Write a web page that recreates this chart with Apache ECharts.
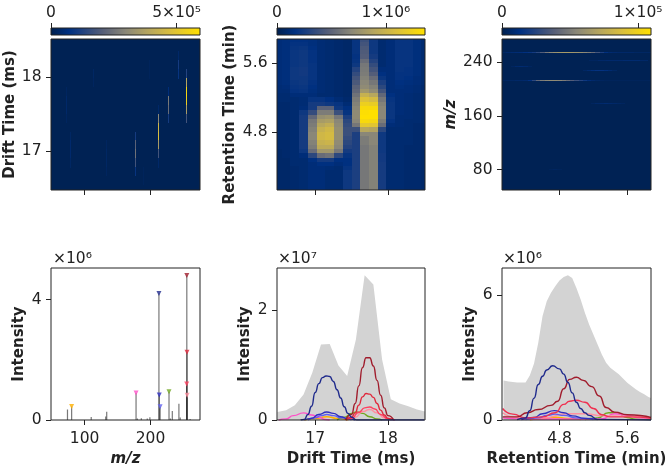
<!DOCTYPE html>
<html><head><meta charset="utf-8">
<style>html,body{margin:0;padding:0;background:#fff}#c{width:666px;height:466px;filter:blur(0.4px)}</style>
<script src="https://cdn.jsdelivr.net/npm/echarts@6/dist/echarts.min.js"></script>
</head><body><div id="c"></div>
<script>
// Colour map of the heat maps (fraction of scale -> colour)
const colorStops = [[0,'#00204f'],[0.12,'#003080'],[0.2,'#1c3f80'],[0.35,'#575f78'],[0.5,'#8a8778'],[0.65,'#b5a55f'],[0.8,'#d9be3e'],[1,'#ffe000']];

// Scale maxima of the three colour bars
const barMaxMz = 5.93e5, barMaxRt = 1.36e6, barMaxDrift = 1.095e5;

// Drift time bins (ms), retention time bins (min)
const driftBins = [16.48,16.6,16.72,16.84,16.96,17.08,17.2,17.32,17.44,17.56,17.68,17.8,17.92,18.04,18.16,18.28,18.4,18.52];
const rtBinsTopDown = [5.875,5.825,5.775,5.725,5.675,5.625,5.575,5.525,5.475,5.425,5.375,5.325,5.275,5.225,5.175,5.125,5.075,5.025,4.975,4.925,4.875,4.825,4.775,4.725,4.675,4.625,4.575,4.525,4.475,4.425,4.375,4.325,4.275,4.225,4.175,4.125];

// Drift vs retention heat map, percent of colour scale; one row per retention bin
const heatRtDrift = [
[10,11,12,12,11,9,8,7,6,14,28,16,8,10,14,14,11,8],
[10,11,13,13,11,9,8,7,6,14,30,16,8,10,14,14,11,8],
[10,11,14,15,12,9,8,7,6,14,32,16,8,10,14,14,11,8],
[10,11,15,16,13,9,8,7,6,14,33,16,8,10,14,14,11,8],
[10,11,15,16,13,9,8,7,6,13,34,18,8,10,14,14,11,8],
[10,11,15,16,13,9,8,7,6,14,40,22,8,10,14,14,11,8],
[10,11,15,16,14,9,8,7,6,16,44,26,8,10,14,14,11,8],
[10,11,16,17,14,9,8,7,6,22,45,30,10,10,14,13,11,8],
[10,11,16,17,14,9,8,7,6,26,46,34,12,10,13,13,11,8],
[10,11,16,16,14,9,8,7,6,30,48,40,15,10,13,12,10,8],
[10,11,15,16,13,9,8,7,6,32,50,44,20,10,12,11,10,8],
[9,10,14,15,12,9,8,7,6,36,52,48,24,10,11,10,9,7],
[9,9,13,14,11,9,8,7,6,38,58,52,30,10,10,10,9,7],
[8,8,10,10,10,8,8,7,6,42,72,66,38,12,10,9,8,7],
[8,8,8,9,14,14,12,9,7,46,82,78,44,14,10,9,8,7],
[7,7,8,9,18,18,16,14,9,48,90,88,48,15,10,9,8,7],
[7,7,8,10,18,36,36,16,12,50,96,96,50,15,10,9,8,7],
[7,7,8,16,26,46,46,28,14,52,99,100,50,15,10,9,8,7],
[7,7,8,18,38,54,56,44,20,52,100,100,50,15,9,9,8,7],
[7,7,8,18,44,60,62,50,24,50,96,94,46,13,9,8,8,7],
[7,7,8,18,46,66,70,52,26,44,86,84,40,10,9,8,7,6],
[7,7,8,18,48,72,76,54,28,28,66,64,24,8,8,8,7,6],
[7,7,8,18,50,76,78,54,28,20,50,50,16,8,8,8,7,6],
[7,7,8,18,50,76,78,54,26,20,46,50,16,8,8,8,7,6],
[7,7,8,18,48,72,74,52,24,20,46,50,16,8,8,8,7,6],
[7,7,8,18,46,68,68,50,22,20,44,48,16,8,8,7,7,6],
[6,7,8,16,40,58,58,44,18,20,44,48,16,8,8,7,7,6],
[6,7,8,10,24,40,42,24,14,20,44,48,17,8,8,7,7,6],
[6,6,8,8,12,18,18,12,12,20,44,48,17,8,8,7,7,6],
[6,6,8,8,10,12,12,10,12,20,44,48,18,8,8,7,7,6],
[6,6,7,8,10,10,9,8,14,20,44,48,18,8,8,7,7,6],
[6,6,7,8,10,10,8,8,16,20,44,48,18,8,8,7,7,6],
[6,6,7,8,10,10,8,8,16,20,44,48,18,8,8,7,7,6],
[6,6,7,8,10,10,8,8,16,20,44,48,18,8,8,7,7,6],
[6,6,7,8,10,10,8,8,16,20,44,48,18,8,8,7,7,6],
[6,6,7,8,10,10,8,8,16,20,44,48,18,8,8,7,7,6]
];

// m/z vs drift streaks: [m/z, drift, percent of colour scale]
const streaksMzDrift = [
[255,18.04,22],[255,17.92,65],[255,17.8,95],[255,17.68,90],[255,17.56,60],[255,17.44,30],
[211.6,17.56,6],[211.6,17.44,50],[211.6,17.32,75],[211.6,17.2,80],[211.6,17.08,60],[211.6,16.96,30],[211.6,16.84,6],
[227,17.8,10],[227,17.68,45],[227,17.56,40],[227,17.44,18],
[177,17.2,18],[177,17.08,36],[177,16.96,42],[177,16.84,30],[177,16.72,14],
[242,18.28,6],[242,18.16,18],[242,18.04,14],
[113,18.04,5],[113,17.92,4],
[73,17.8,4],[73,17.68,6],[73,17.56,6],[73,17.44,4],
[79,17.2,5],[79,17.08,7],[79,16.96,7],[79,16.84,5],
[133,17.08,4],[133,16.96,5],[133,16.84,5],[133,16.72,4],
[199,18.16,3],[199,18.04,3],
[190,16.72,3],[190,16.6,3]
];

// Retention bins of the m/z vs retention streaks (min)
const rtStreakBins = [4.15,4.2,4.25,4.3,4.35,4.4,4.45,4.5,4.55,4.6,4.65,4.7,4.75,4.8,4.85,4.9,4.95,5.0,5.05,5.1,5.15,5.2,5.25,5.3,5.35,5.4,5.45,5.5,5.55,5.6,5.65,5.7,5.75,5.8,5.85];
// Percent of colour scale at each retention bin
const streak255 = [5,7,8,9,10,12,14,18,24,34,44,50,55,58,60,60,58,56,54,50,46,40,30,20,12,8,7,6,6,6,6,5,5,5,5];
const streak213 = [4,5,5,6,6,7,12,24,38,46,50,52,52,50,46,40,34,28,22,16,10,7,5,4,3,3,3,3,3,3,3,3,3,3,3];
// Short streaks: [m/z, retention, percent]
const streaksMzRt = [
[228,5.1,5],[228,5.15,8],[228,5.2,11],[228,5.25,13],[228,5.3,13],[228,5.35,11],[228,5.4,8],[228,5.45,5],
[233.5,4.25,4],[233.5,4.3,7],[233.5,4.35,8],[233.5,4.4,7],[233.5,4.45,4],
[243.5,5.2,4],[243.5,5.3,6],[243.5,5.4,7],[243.5,5.5,7],[243.5,5.6,8],[243.5,5.7,8],[243.5,5.8,6],
[179,5.2,4],[179,5.25,6],[179,5.3,7],[179,5.35,8],[179,5.4,7],[179,5.45,6],[179,5.5,5],[179,5.55,4],
[80,4.7,3],[80,4.75,4],[80,4.8,3]
];

// Mass spectrum
const stemPeaks = [[74,0.35],[80.3,0.45],[110,0.1],[132,0.12],[133.5,0.27],[150,0.02],[155,0.02],[160,0.02],[166,0.02],[178,0.9],[180,0.05],[186,0.06],[195,0.05],[199,0.09],[205,0.02],[212.7,4.2],[213.2,0.83],[214.5,0.44],[222,0.02],[228,0.94],[230,0.05],[233,0.3],[243,0.54],[245,0.08],[255,4.8],[255.3,2.25],[254.8,1.2],[255.5,0.82],[260,0.03],[268,0.02]];
const spectrumMarkers = [
{c:'#ffb000',p:[80.3,0.45]},{c:'#ff50c8',p:[178,0.9]},{c:'#1f2a8c',p:[212.7,4.2]},{c:'#3030c0',p:[213.2,0.83]},{c:'#6060f0',p:[214.5,0.44]},
{c:'#70a820',p:[228,0.94]},{c:'#a01c2c',p:[255,4.8]},{c:'#e0283c',p:[255.3,2.25]},{c:'#ff4060',p:[254.8,1.2]},{c:'#ff90a0',p:[255.5,0.82]}];

// Drift profile (x 1e7)
const driftTotal = [.145,.175,.27,.465,.86,1.37,1.38,.99,.8,1.46,2.63,2.46,1.1,.375,.3,.25,.19,.15];
const dNavy = [[16.8,0],[16.85,.01],[16.9,.1],[16.95,.25],[17,.5],[17.05,.66],[17.1,.77],[17.15,.8],[17.2,.79],[17.25,.7],[17.3,.55],[17.35,.4],[17.4,.24],[17.45,.12],[17.5,.05],[17.57,0],[18.5,0]];
const dDarkRed = [[17.42,0],[17.5,.1],[17.55,.3],[17.6,.62],[17.65,.95],[17.7,1.13],[17.75,1.13],[17.8,.98],[17.85,.72],[17.9,.45],[17.95,.22],[18,.08],[18.08,0]];
const dRed = [[17.42,0],[17.5,.05],[17.55,.13],[17.6,.27],[17.65,.42],[17.7,.48],[17.75,.47],[17.8,.41],[17.85,.3],[17.9,.18],[17.95,.09],[18,.03],[18.08,0]];
const dPink = [[17.42,0],[17.5,.03],[17.6,.14],[17.68,.22],[17.75,.235],[17.82,.2],[17.9,.1],[18,.02],[18.1,0]];
const dLightPink = [[17.45,0],[17.55,.05],[17.65,.15],[17.75,.19],[17.85,.13],[17.95,.04],[18.05,0]];
const dGreen = [[17.3,0],[17.4,.05],[17.5,.12],[17.57,.145],[17.65,.12],[17.75,.06],[17.85,.02],[17.92,0]];
const dMagenta = [[16.5,.0],[16.6,.02],[16.7,.08],[16.84,.13],[16.95,.09],[17.05,.05],[17.14,.01],[17.2,0]];
const dBlue = [[16.85,0],[16.95,.03],[17.05,.1],[17.16,.145],[17.25,.12],[17.35,.06],[17.45,.02],[17.55,0]];
const dLightBlue = [[16.9,0],[17,.04],[17.08,.08],[17.16,.1],[17.25,.08],[17.35,.04],[17.5,0]];
const dOrange = [[16.85,0],[17,.03],[17.16,.06],[17.3,.03],[17.45,0]];

// Retention profile (x 1e6)
const rtTotalX = [4.14,4.15,4.2,4.25,4.3,4.35,4.4,4.45,4.5,4.55,4.6,4.65,4.7,4.75,4.8,4.85,4.9,4.95,5,5.05,5.1,5.15,5.2,5.25,5.3,5.35,5.4,5.45,5.5,5.55,5.6,5.65,5.7,5.75,5.8,5.85,5.88];
const rtTotal = [1.9,1.9,1.85,1.82,1.8,1.8,1.8,2.14,2.71,3.7,4.98,5.7,6.1,6.41,6.69,6.86,6.94,6.81,6.33,5.78,5.14,4.58,4.1,3.62,3.14,2.74,2.5,2.35,2.19,1.99,1.79,1.63,1.47,1.34,1.23,1.1,1.05];
const rNavy = [[4.3,.02],[4.4,.1],[4.45,.45],[4.5,1.05],[4.55,1.7],[4.6,2.1],[4.65,2.4],[4.72,2.6],[4.8,2.45],[4.85,2.2],[4.9,1.8],[4.95,1.3],[5,.85],[5.05,.55],[5.1,.35],[5.15,.22],[5.25,.03],[5.88,0]];
const rDarkRed = [[4.13,.15],[4.3,.15],[4.42,.35],[4.55,.5],[4.7,.7],[4.78,.9],[4.85,1.5],[4.92,1.95],[5,2.05],[5.08,1.9],[5.18,1.6],[5.27,1.15],[5.35,.6],[5.45,.38],[5.6,.25],[5.88,.12]];
const rRed = [[4.13,.55],[4.25,.28],[4.4,.1],[4.6,.15],[4.75,.35],[4.85,.75],[4.92,.9],[5,.95],[5.1,.85],[5.2,.55],[5.3,.25],[5.4,.15],[5.6,.15],[5.88,.08]];
const rLightPink = [[4.13,.35],[4.3,.12],[4.6,.1],[4.9,.3],[5.1,.3],[5.3,.2],[5.6,.18],[5.88,.08]];
const rGreen = [[5.1,.02],[5.25,.1],[5.38,.35],[5.47,.35],[5.6,.12],[5.7,.04],[5.88,.02]];
const rMagenta = [[4.13,.1],[4.4,.05],[5.3,.05],[5.45,.3],[5.6,.22],[5.75,.1],[5.88,.06]];
const rBlue = [[4.35,.02],[4.5,.12],[4.6,.3],[4.74,.45],[4.85,.35],[4.95,.2],[5.1,.08],[5.25,.02]];
const rLightBlue = [[4.4,.02],[4.55,.1],[4.65,.22],[4.75,.28],[4.85,.22],[5,.1],[5.2,.02]];
const rOrange = [[4.45,.01],[4.6,.06],[4.75,.13],[4.9,.08],[5.05,.02]];

// Tick values and labels
const ticksMz = [100,200], ticksDrift = [17,18], ticksRt = [4.8,5.6], ticksMzY = [80,160,240];

const INK = '#222', FONT = 'DejaVu Sans', TICK = 15.5, NAME = 15;
function mix(a,b,t){const p=s=>[1,3,5].map(i=>parseInt(s.substr(i,2),16));const A=p(a),B=p(b);return 'rgb('+A.map((v,i)=>Math.round(v+(B[i]-v)*t)).join(',')+')';}
function cmap(f){f=Math.max(0,Math.min(1,f));for(let i=1;i<colorStops.length;i++){if(f<=colorStops[i][0]){const a=colorStops[i-1],b=colorStops[i];return mix(a[1],b[1],(f-a[0])/(b[0]-a[0]));}}return colorStops[colorStops.length-1][1];}

const grids=[],xAxes=[],yAxes=[],series=[];
function addPanel(box,x,y){
  const i=grids.length;
  grids.push({left:box[0],top:box[1],width:box[2]-box[0],height:box[3]-box[1],outerBoundsMode:'none',containLabel:false,show:true,z:10,backgroundColor:'transparent',borderColor:INK,borderWidth:1});
  const base={gridIndex:i,type:'value',scale:true,splitLine:{show:false},axisLine:{show:false,onZero:false},minorTick:{show:false}};
  const tick={show:true,length:5,lineStyle:{color:INK,width:1}};
  xAxes.push(Object.assign({},base,{min:x.min,max:x.max,position:x.top?'top':'bottom',
    axisTick:Object.assign({},tick,{customValues:x.ticks}),
    axisLabel:{show:!!x.labels,customValues:x.ticks,hideOverlap:false,showMinLabel:true,showMaxLabel:true,margin:x.margin||5,color:INK,fontFamily:FONT,fontSize:TICK,formatter:x.labels||undefined},
    name:x.name||'',nameLocation:'middle',nameGap:x.gap||24,nameTextStyle:{fontFamily:FONT,fontWeight:'bold',fontStyle:x.italic?'italic':'normal',fontSize:NAME,color:INK}}));
  yAxes.push(Object.assign({},base,{min:y.min,max:y.max,show:y.hidden?false:true,
    axisTick:Object.assign({},tick,{customValues:y.ticks}),
    axisLabel:{show:!!y.labels,customValues:y.ticks,hideOverlap:false,margin:y.margin||9.5,color:INK,fontFamily:FONT,fontSize:TICK,formatter:y.labels||undefined},
    name:y.name||'',nameLocation:'middle',nameGap:y.gap||30,nameRotate:90,nameTextStyle:{fontFamily:FONT,fontWeight:'bold',fontStyle:y.italic?'italic':'normal',fontSize:NAME,color:INK}}));
  return i;
}
// Heat cells: [xCentre, yCentre, xWidth, yHeight, fraction]
function cellSeries(i,cells){
  series.push({type:'custom',xAxisIndex:i,yAxisIndex:i,z:2,silent:true,animation:false,data:cells,
    dimensions:['x','y','w','h','f'],encode:{x:0,y:1},
    renderItem(params,api){
      const x=api.value(0),y=api.value(1),w=api.value(2),h=api.value(3);
      const a=api.coord([x-w/2,y+h/2]),b=api.coord([x+w/2,y-h/2]);
      const cs=params.coordSys;
      const x0=Math.max(cs.x,Math.round(a[0])),x1=Math.min(cs.x+cs.width,Math.max(Math.round(b[0]),Math.round(a[0])+1));
      const y0=Math.max(cs.y,Math.round(a[1])),y1=Math.min(cs.y+cs.height,Math.max(Math.round(b[1]),Math.round(a[1])+1));
      if(x1<=x0||y1<=y0)return null;
      return {type:'rect',shape:{x:x0,y:y0,width:x1-x0,height:y1-y0},style:{fill:cmap(api.value(4))}};
    }});
}
function background(i,xr,yr){cellSeries(i,[[(xr[0]+xr[1])/2,(yr[0]+yr[1])/2,xr[1]-xr[0],yr[1]-yr[0],0.012]]);}
function colorBar(box,maxTick,label,maxVal){
  const i=addPanel(box,{min:0,max:maxVal,ticks:[0,maxTick],top:true,labels:v=>v===0?'0':label,margin:7},{min:0,max:1,hidden:true,ticks:[]});
  series.push({type:'custom',xAxisIndex:i,yAxisIndex:i,z:2,silent:true,animation:false,data:[[0,maxVal]],encode:{x:[0,1]},
    renderItem(p,api){const a=api.coord([api.value(0),1]),b=api.coord([api.value(1),0]);
      return {type:'rect',shape:{x:a[0],y:a[1],width:b[0]-a[0],height:b[1]-a[1]},style:{fill:new echarts.graphic.LinearGradient(0,0,1,0,colorStops.map(s=>({offset:s[0],color:s[1]})))}};}});
}
function profileLine(i,data,color,w){series.push({type:'line',xAxisIndex:i,yAxisIndex:i,z:4,data,showSymbol:false,symbol:'none',smooth:0.6,smoothMonotone:'x',animation:false,silent:true,clip:true,lineStyle:{color,width:w||1.4}});}
function totalArea(i,data){series.push({type:'line',xAxisIndex:i,yAxisIndex:i,z:2,data,showSymbol:false,symbol:'none',animation:false,silent:true,lineStyle:{width:0},areaStyle:{color:'#d3d3d3',opacity:1}});}

const MZ=[49,275], DR=[16.475,18.51], RT=[4.122,5.88], MZY=[49.7,275];
const col=[[51,200],[277,425],[502,651]];
const fmt=v=>String(v), fmt1=v=>v.toFixed(1);

// Top row
colorBar([col[0][0],28,col[0][1],35],5e5,'5×10⁵',barMaxMz);
const h1=addPanel([col[0][0],39,col[0][1],190],{min:MZ[0],max:MZ[1],ticks:ticksMz},{min:DR[0],max:DR[1],ticks:ticksDrift,labels:fmt,name:'Drift Time (ms)',gap:32});
background(h1,MZ,DR);
cellSeries(h1,streaksMzDrift.map(s=>[s[0],s[1],1.6,0.125,s[2]/100]));

colorBar([col[1][0],28,col[1][1],35],1e6,'1×10⁶',barMaxRt);
const h2=addPanel([col[1][0],39,col[1][1],190],{min:DR[0],max:DR[1],ticks:ticksDrift},{min:RT[0],max:RT[1],ticks:ticksRt,labels:fmt1,name:'Retention Time (min)',gap:39});
const cells2=[];heatRtDrift.forEach((row,r)=>row.forEach((v,c)=>cells2.push([driftBins[c],rtBinsTopDown[r],0.12,0.05,v/100])));
cellSeries(h2,cells2);

colorBar([col[2][0],28,col[2][1],35],1e5,'1×10⁵',barMaxDrift);
const h3=addPanel([col[2][0],39,col[2][1],190],{min:RT[0],max:RT[1],ticks:ticksRt},{min:MZY[0],max:MZY[1],ticks:ticksMzY,labels:fmt,name:'m/z',italic:true,gap:39});
background(h3,RT,MZY);
const cells3=[];
streak255.forEach((v,k)=>cells3.push([rtStreakBins[k],255,0.05,1.4,v/100]));
streak213.forEach((v,k)=>cells3.push([rtStreakBins[k],212.7,0.05,1.4,v/100]));
streaksMzRt.forEach(s=>cells3.push([s[1],s[0],(s[0]===243.5?0.1:0.05),1.4,s[2]/100]));
cellSeries(h3,cells3);

// Bottom row
const spec=addPanel([col[0][0],268,col[0][1],420],{min:MZ[0],max:MZ[1],ticks:ticksMz,labels:fmt,name:'m/z',italic:true,gap:32,margin:11},{min:0,max:5.05,ticks:[0,4],labels:fmt,name:'Intensity',gap:24});
stemPeaks.forEach(p=>series.push({type:'line',xAxisIndex:spec,yAxisIndex:spec,z:3,data:[[p[0],0],p],symbol:'none',animation:false,silent:true,lineStyle:{color:'rgba(30,30,30,0.6)',width:1.2}}));
spectrumMarkers.forEach(m=>series.push({type:'scatter',xAxisIndex:spec,yAxisIndex:spec,z:5,data:[m.p],symbol:'triangle',symbolRotate:180,symbolSize:5,animation:false,silent:true,itemStyle:{color:m.c}}));

const dp=addPanel([col[1][0],268,col[1][1],420],{min:DR[0],max:DR[1],ticks:ticksDrift,labels:fmt,name:'Drift Time (ms)',gap:32,margin:11},{min:0,max:2.76,ticks:[0,2],labels:fmt,name:'Intensity',gap:24});
totalArea(dp,driftTotal.map((v,k)=>[driftBins[k],v]));
[[dOrange,'#ffb000'],[dGreen,'#70a820'],[dMagenta,'#ff50c8'],[dLightPink,'#ff90a0'],[dLightBlue,'#6060f0'],[dBlue,'#3030c0'],[dPink,'#ff4060'],[dRed,'#e0283c'],[dDarkRed,'#a01c2c'],[dNavy,'#1f2a8c']].forEach(s=>profileLine(dp,s[0],s[1]));

const rp=addPanel([col[2][0],268,col[2][1],420],{min:RT[0],max:RT[1],ticks:ticksRt,labels:fmt1,name:'Retention Time (min)',gap:32,margin:11},{min:0,max:7.29,ticks:[0,6],labels:fmt,name:'Intensity',gap:24});
totalArea(rp,rtTotal.map((v,k)=>[rtTotalX[k],v]));
[[rOrange,'#ffb000'],[rGreen,'#70a820'],[rMagenta,'#ff50c8'],[rLightPink,'#ff90a0'],[rLightBlue,'#6060f0'],[rBlue,'#3030c0'],[rRed,'#f03050'],[rDarkRed,'#a01c2c'],[rNavy,'#1f2a8c']].forEach(s=>profileLine(rp,s[0],s[1]));

// Scale factors above the bottom panels
const offsets=[['×10⁶',53],['×10⁷',278],['×10⁶',503]];
const chart=echarts.init(document.getElementById('c'),null,{renderer:'canvas'});
chart.setOption({animation:false,grid:grids,xAxis:xAxes,yAxis:yAxes,series,
  graphic:offsets.map(o=>({type:'text',left:o[1],top:251,z:20,style:{text:o[0],fontFamily:FONT,fontSize:TICK,fill:INK}}))});
</script></body></html>
